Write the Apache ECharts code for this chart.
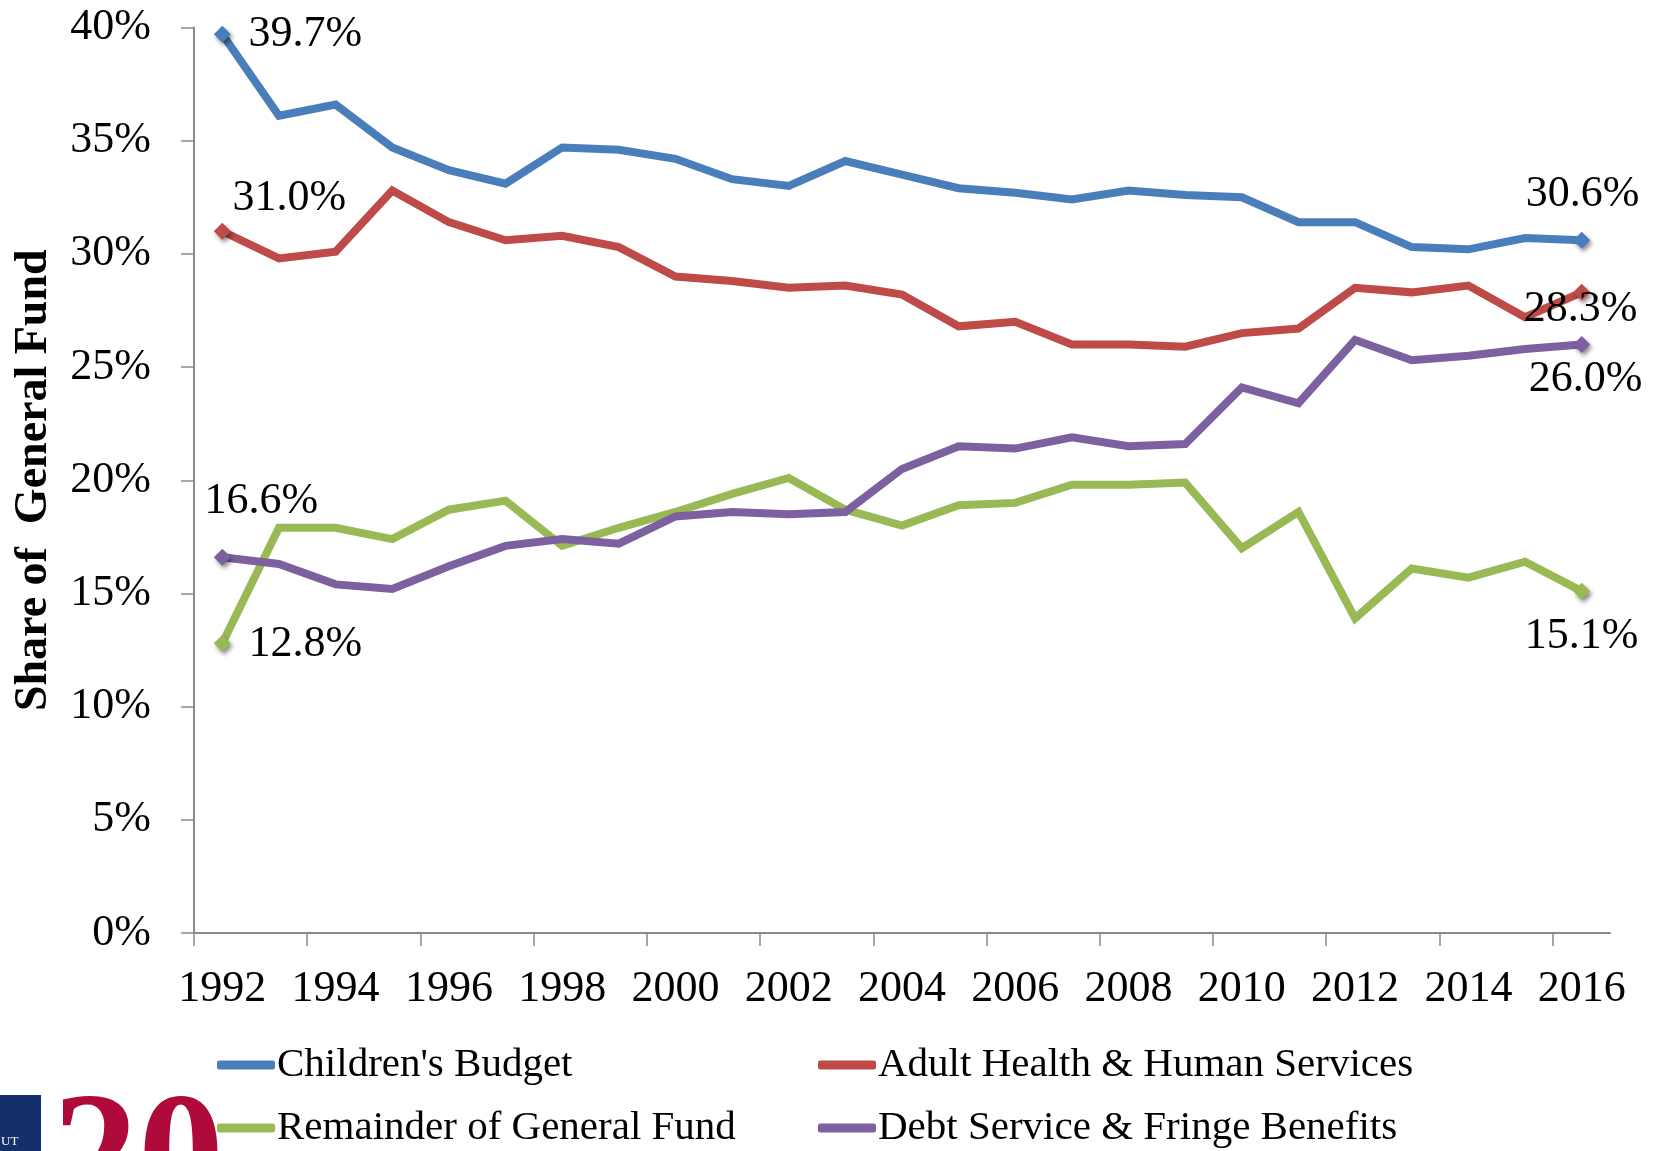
<!DOCTYPE html>
<html>
<head>
<meta charset="utf-8">
<script src="https://cdn.jsdelivr.net/npm/echarts@6/dist/echarts.min.js"></script>
<style>
html,body{margin:0;padding:0;background:#fff;}
#chart{width:1661px;height:1151px;}
</style>
</head>
<body>
<div id="chart"></div>
<script>
const years = ['1992','1993','1994','1995','1996','1997','1998','1999','2000','2001','2002','2003','2004','2005','2006','2007','2008','2009','2010','2011','2012','2013','2014','2015','2016'];
const childrensBudget = [39.7,36.1,36.6,34.7,33.7,33.1,34.7,34.6,34.2,33.3,33.0,34.1,33.5,32.9,32.7,32.4,32.8,32.6,32.5,31.4,31.4,30.3,30.2,30.7,30.6];
const adultHealth = [31.0,29.8,30.1,32.8,31.4,30.6,30.8,30.3,29.0,28.8,28.5,28.6,28.2,26.8,27.0,26.0,26.0,25.9,26.5,26.7,28.5,28.3,28.6,27.2,28.3];
const remainderFund = [12.8,17.9,17.9,17.4,18.7,19.1,17.1,17.9,18.6,19.4,20.1,18.7,18.0,18.9,19.0,19.8,19.8,19.9,17.0,18.6,13.9,16.1,15.7,16.4,15.1];
const debtService = [16.6,16.3,15.4,15.2,16.2,17.1,17.4,17.2,18.4,18.6,18.5,18.6,20.5,21.5,21.4,21.9,21.5,21.6,24.1,23.4,26.2,25.3,25.5,25.8,26.0];
const seriesNames = ["Children's Budget", "Adult Health & Human Services", "Remainder of General Fund", "Debt Service & Fringe Benefits"];
const yTicks = [0,5,10,15,20,25,30,35,40];

const colors = ['#4A7EBB', '#BE4B48', '#98B954', '#7D60A0'];
const FONT = 'Liberation Serif';

// label offsets (first point, last point) relative to the marker centre
const labelOffsets = [
  [[83, 0], [1, -46]],
  [[67, -33], [-1, 17]],
  [[83, 1], [0, 45]],
  [[39, -56], [4, 35]]
];

function buildData(values, sIdx) {
  const last = values.length - 1;
  return values.map((v, i) => {
    if (i === 0 || i === last) {
      const off = labelOffsets[sIdx][i === 0 ? 0 : 1];
      return {
        value: v,
        symbol: 'diamond',
        symbolSize: 17,
        label: {
          show: true,
          position: 'inside',
          offset: off,
          formatter: (p) => p.value.toFixed(1) + '%',
          fontFamily: FONT,
          fontSize: 44,
          lineHeight: 44,
          color: '#000'
        }
      };
    }
    return { value: v, symbol: 'none', symbolSize: 0 };
  });
}

const allValues = [childrensBudget, adultHealth, remainderFund, debtService];

// legend placement: [left, top] per series
const legendPos = [[212, 1037], [813, 1037], [212, 1100], [813, 1100]];

const chart = echarts.init(document.getElementById('chart'), null, { renderer: 'canvas' });
chart.setOption({
  animation: false,
  backgroundColor: '#fff',
  grid: [
    { left: 194, right: 51, top: 27.5, bottom: 218, containLabel: false, outerBoundsMode: 'none' },
    // tick-only grid: category boundaries every two years (no tick at the far right end)
    { left: 194, right: 108.4, top: 27.5, bottom: 218, containLabel: false, outerBoundsMode: 'none', show: false }
  ],
  xAxis: [
    {
      type: 'category',
      gridIndex: 0,
      data: years,
      boundaryGap: true,
      axisLine: { show: true, lineStyle: { color: '#8A8A8A', width: 2 } },
      axisTick: { show: false },
      axisLabel: { interval: 1, margin: 34, fontFamily: FONT, fontSize: 44, color: '#000' },
      splitLine: { show: false }
    },
    {
      type: 'category',
      gridIndex: 1,
      data: years,
      boundaryGap: false,
      axisLine: { show: false },
      axisTick: { show: true, interval: 1, length: 13, lineStyle: { color: '#8A8A8A', width: 1.5 } },
      axisLabel: { show: false },
      splitLine: { show: false }
    }
  ],
  yAxis: [
    {
      type: 'value',
      gridIndex: 0,
      min: yTicks[0],
      max: yTicks[yTicks.length - 1],
      interval: yTicks[1] - yTicks[0],
      name: 'Share of  General Fund',
      nameLocation: 'middle',
      nameGap: 137,
      nameRotate: 90,
      nameTextStyle: { fontFamily: FONT, fontSize: 46, fontWeight: 'bold', color: '#000' },
      axisLine: { show: true, lineStyle: { color: '#8A8A8A', width: 2 } },
      axisTick: { show: true, length: 13, lineStyle: { color: '#8A8A8A', width: 1.5 } },
      axisLabel: { margin: 43, fontFamily: FONT, fontSize: 44, color: '#000', formatter: '{value}%' },
      splitLine: { show: false }
    },
    {
      type: 'value',
      gridIndex: 1,
      min: yTicks[0],
      max: yTicks[yTicks.length - 1],
      show: false
    }
  ],
  legend: seriesNames.map((name, i) => ({
    orient: 'horizontal',
    left: legendPos[i][0], top: legendPos[i][1],
    itemWidth: 58, itemHeight: 9,
    icon: 'roundRect',
    data: [name],
    textStyle: { fontFamily: FONT, fontSize: 41, lineHeight: 46, color: '#000', padding: [0, 0, 0, -3] }
  })),
  graphic: [
    { type: 'rect', left: 0, top: 1095, shape: { width: 41, height: 56 }, style: { fill: '#13306A' }, silent: true },
    { type: 'text', x: 1, y: 1135, style: { text: 'UT', fill: '#fff', font: '13px "Liberation Serif"' }, silent: true },
    { type: 'text', x: 52, y: 1080, style: { text: '20', fill: '#AE0A3A', font: 'bold 172px "Liberation Serif"', verticalAlign: 'top' }, silent: true }
  ],
  series: allValues.map((vals, s) => ({
    name: seriesNames[s],
    type: 'line',
    xAxisIndex: 0,
    yAxisIndex: 0,
    data: buildData(vals, s),
    showAllSymbol: true,
    color: colors[s],
    lineStyle: { width: 8, color: colors[s], join: 'miter' },
    itemStyle: { color: colors[s], shadowBlur: 4, shadowColor: 'rgba(0,0,0,0.45)', shadowOffsetX: 2, shadowOffsetY: 3 },
    emphasis: { disabled: true },
    z: 2 + s
  }))
});
</script>
</body>
</html>
